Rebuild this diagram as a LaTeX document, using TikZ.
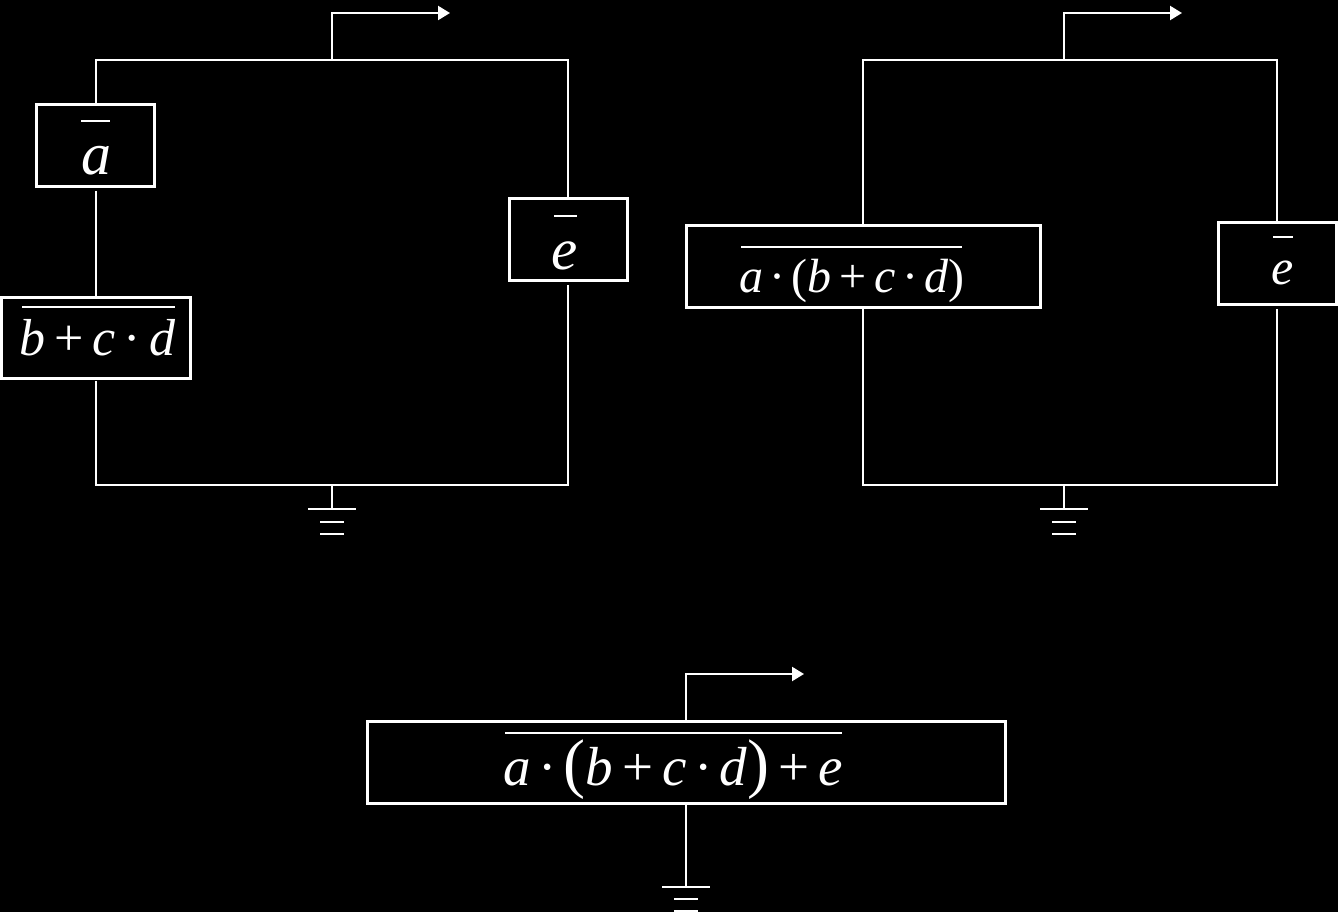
\documentclass[tikz,border=0pt]{standalone}
\usepackage{fontspec}
\setmainfont{Liberation Serif}
\usetikzlibrary{arrows.meta}
\tikzset{
  wire/.style={draw=white,line width=2.2pt},
  bar/.style={draw=white,line width=2.2pt},
  outwire/.style={wire,-{Triangle[length=12pt,width=14pt]}},
  gatebox/.style={draw=white,line width=3pt,fill=black,inner sep=0pt,anchor=north west},
  expr/.style={text=white,inner sep=0pt,anchor=base},
}
\newcommand{\ii}[1]{\textit{#1}}
\newcommand{\dotop}{\kern.13em·\kern.13em}
\begin{document}
\begin{tikzpicture}[x=1pt,y=-1pt]
\useasboundingbox[fill=black] (0,0) rectangle (1338,912);
% left circuit
\node[gatebox,minimum width=118pt,minimum height=82pt] (a) at (35,103) {};
\node[gatebox,minimum width=189pt,minimum height=81pt] (bcd) at (0,296) {};
\node[gatebox,minimum width=118pt,minimum height=82pt] (e) at (507.5,197) {};
\coordinate (ltl) at (96,60); \coordinate (ltr) at (568,60);
\coordinate (lbl) at (96,485); \coordinate (lbr) at (568,485);
\coordinate (lt) at (332,60); \coordinate (lb) at (332,485);
\coordinate (lu) at (332,13); \coordinate (lo) at (450,13); \coordinate (lg) at (332,509);
\draw[wire] (a.north -| ltl) -- (ltl) -- (ltr) -- (e.north -| ltr);
\draw[wire] ([yshift=-3pt]a.south -| ltl) -- (bcd.north -| ltl);
\draw[wire] ([yshift=-1pt]bcd.south -| ltl) -- (lbl) -- (lbr) -- ([yshift=-3pt]e.south -| lbr);
\draw[outwire] (lt) -- (lu) -- (lo);
\draw[wire] (lb) -- (lg);
\draw[bar] (308,509) -- (356,509) (320,522) -- (344,522) (320,534) -- (344,534);
\node[expr,font=\fontsize{60}{60}\selectfont] (ta) at (96,175) {\ii{a}};
\draw[bar] (81,121) -- (110,121);
\node[expr,font=\fontsize{52}{52}\selectfont] (tbcd) at (97.5,355) {\ii{b}\,+\,\ii{c}\kern.03em\dotop\kern.03em\ii{d}};
\draw[bar] (22,307) -- (175,307);
\node[expr,font=\fontsize{59}{59}\selectfont] (te) at (565,269) {\ii{e}};
\draw[bar] (554,216) -- (577,216);
% right circuit
\node[gatebox,minimum width=353.5pt,minimum height=82pt] (abcd) at (685,224) {};
\node[gatebox,minimum width=118pt,minimum height=82pt] (e2) at (1216.5,221) {};
\coordinate (rtl) at (863,60); \coordinate (rtr) at (1277,60);
\coordinate (rbl) at (863,485); \coordinate (rbr) at (1277,485);
\coordinate (rt) at (1064,60); \coordinate (rb) at (1064,485);
\coordinate (ru) at (1064,13); \coordinate (ro) at (1182,13); \coordinate (rg) at (1064,509);
\draw[wire] (abcd.north -| rtl) -- (rtl) -- (rtr) -- (e2.north -| rtr);
\draw[wire] (abcd.south -| rbl) -- (rbl) -- (rbr) -- ([yshift=-3pt]e2.south -| rbr);
\draw[outwire] (rt) -- (ru) -- (ro);
\draw[wire] (rb) -- (rg);
\draw[bar] (1040,509) -- (1088,509) (1052,522) -- (1076,522) (1052,534) -- (1076,534);
\node[expr,font=\fontsize{48}{48}\selectfont] (tabcd) at (852,292) {\ii{a}\dotop(\ii{b}\,+\,\ii{c}\dotop\ii{d})};
\draw[bar] (741,247) -- (962,247);
\node[expr,font=\fontsize{50}{50}\selectfont] (te2) at (1283,284) {\ii{e}};
\draw[bar] (1273,237) -- (1293,237);
% bottom circuit
\node[gatebox,minimum width=638pt,minimum height=82pt] (all) at (366,720) {};
\coordinate (bu) at (686,674); \coordinate (bo) at (804,674); \coordinate (bg) at (686,887);
\draw[outwire] (all.north -| bu) -- (bu) -- (bo);
\draw[wire] (all.south -| bu) -- (bg);
\draw[bar] (662,887) -- (710,887) (674,899) -- (698,899) (674,911) -- (698,911);
\node[expr,font=\fontsize{55}{55}\selectfont] (tall) at (673.5,785) {\ii{a}\dotop{\fontsize{66}{66}\selectfont(}\ii{b}\,+\,\ii{c}\dotop\ii{d}{\fontsize{66}{66}\selectfont)}\,+\,\ii{e}};
\draw[bar] (505,733) -- (842,733);
\end{tikzpicture}
\end{document}
